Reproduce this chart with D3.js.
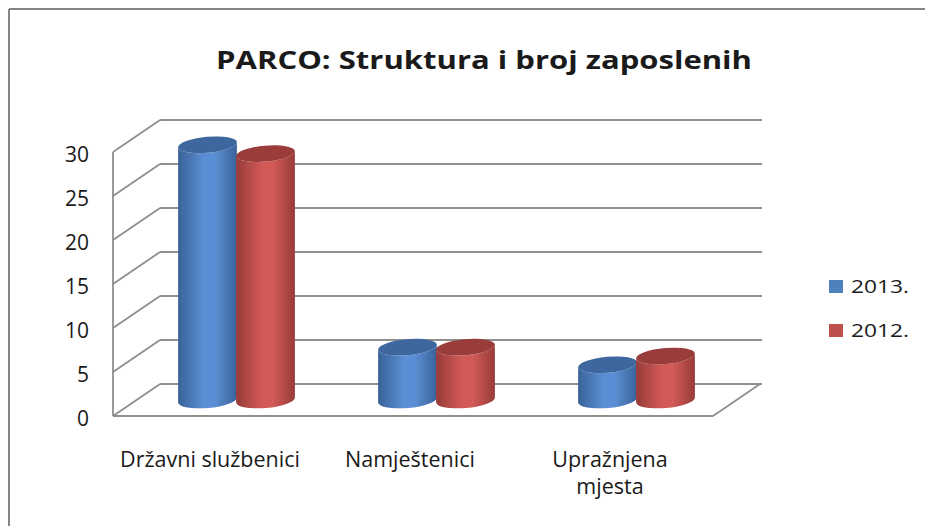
<!DOCTYPE html>
<html>
<head>
<meta charset="utf-8">
<script src="https://cdn.jsdelivr.net/npm/d3@7"></script>
<style>
  body { margin: 0; background: #fff; }
  text { font-family: "Open Sans", "Liberation Sans", sans-serif; fill: #1a1a1a; }
</style>
</head>
<body>
<div id="chart"></div>
<script>
// chart data
var categories = ["Državni službenici", "Namještenici", "Upražnjena\nmjesta"];
var seriesNames = ["2013.", "2012."];
var values2013 = [29, 6, 4];
var values2012 = [28, 6, 5];
var yTicks = [0, 5, 10, 15, 20, 25, 30];
var title = "PARCO: Struktura i broj zaposlenih";

var W = 925, H = 526;
var svg = d3.select("#chart").append("svg").attr("width", W).attr("height", H);

// depth offset of the 3d box (front -> back)
var depth = {x: 47, y: -32};

// front plane scales
var x = d3.scaleBand().domain(categories).range([113, 713]);
var y = d3.scaleLinear().domain([0, 30]).range([416, 152]);
var xs = d3.scaleBand().domain(seriesNames).range([-58, 58]);

var colors = {
  "2013.": {dark: "#3a6298", light: "#5b8fd5", top: "#3d679e", legend: "#4f81bd"},
  "2012.": {dark: "#973b39", light: "#d25b58", top: "#9a3d3a", legend: "#c0504d"}
};

var defs = svg.append("defs");
seriesNames.forEach(function(s, i) {
  var g = defs.append("linearGradient").attr("id", "grad" + i)
    .attr("x1", "0%").attr("x2", "100%").attr("y1", "0%").attr("y2", "0%");
  g.append("stop").attr("offset", "0%").attr("stop-color", colors[s].dark);
  g.append("stop").attr("offset", "45%").attr("stop-color", colors[s].light);
  g.append("stop").attr("offset", "62%").attr("stop-color", colors[s].light);
  g.append("stop").attr("offset", "100%").attr("stop-color", colors[s].dark);
});

// chart frame (top and left edges visible)
svg.append("line").attr("x1", 9).attr("x2", W).attr("y1", 9).attr("y2", 9)
  .attr("stroke", "#858585").attr("stroke-width", 2);
svg.append("line").attr("x1", 9).attr("x2", 9).attr("y1", 9).attr("y2", H)
  .attr("stroke", "#858585").attr("stroke-width", 2);

// title
svg.append("text").attr("x", 484).attr("y", 69)
  .attr("text-anchor", "middle")
  .attr("textLength", 536).attr("lengthAdjust", "spacingAndGlyphs")
  .style("font-size", "25px").style("font-weight", "bold")
  .text(title);

var gridColor = "#8f8f8f";
var x0 = x.range()[0], x1 = x.range()[1];

// back wall gridlines + side wall diagonals
var grid = svg.append("g").attr("stroke", gridColor).attr("stroke-width", 1.8).attr("fill", "none");
yTicks.forEach(function(t) {
  grid.append("line")
    .attr("x1", x0 + depth.x).attr("x2", x1 + depth.x + 2)
    .attr("y1", y(t) + depth.y).attr("y2", y(t) + depth.y);
  grid.append("line")
    .attr("x1", x0).attr("x2", x0 + depth.x)
    .attr("y1", y(t)).attr("y2", y(t) + depth.y);
});
// left front axis
grid.append("line").attr("x1", x0).attr("x2", x0).attr("y1", y(30)).attr("y2", y(0));
// floor front and right edge
grid.append("line").attr("x1", x0).attr("x2", x1).attr("y1", y(0)).attr("y2", y(0));
grid.append("line").attr("x1", x1).attr("x2", x1 + depth.x).attr("y1", y(0)).attr("y2", y(0) + depth.y);

// y tick labels
var yAxis = svg.append("g").attr("transform", "translate(89,3)")
  .call(d3.axisLeft(y).tickValues(yTicks).tickSize(0).tickPadding(0));
yAxis.select(".domain").remove();
yAxis.selectAll("text").style("font-size", "21px").attr("fill", "#1a1a1a")
  .style("font-family", "'Open Sans', sans-serif");

// cylinders
var rx = 29.5, ry = 8, tilt = -5 * Math.PI / 180;
function ellPoint(cx, cy, sign) {
  return [cx + sign * rx * Math.cos(tilt), cy + sign * rx * Math.sin(tilt)];
}
var rows = [];
categories.forEach(function(c, i) {
  rows.push({cat: c, series: "2013.", value: values2013[i], idx: 0});
  rows.push({cat: c, series: "2012.", value: values2012[i], idx: 1});
});
var bars = svg.append("g").selectAll("g").data(rows).enter().append("g");
bars.each(function(d) {
  var g = d3.select(this);
  var cx = x(d.cat) + x.bandwidth() / 2 + xs(d.series) + xs.bandwidth() / 2 + depth.x / 2;
  var cyB = y(0) + depth.y / 2;
  var cyT = y(d.value) + depth.y / 2;
  var rot = tilt * 180 / Math.PI;
  var lb = ellPoint(cx, cyB, -1), rb = ellPoint(cx, cyB, 1);
  var lt = ellPoint(cx, cyT, -1), rt = ellPoint(cx, cyT, 1);
  var path = "M" + lt[0] + "," + lt[1] +
    " L" + lb[0] + "," + lb[1] +
    " A" + rx + "," + ry + " " + rot + " 0 0 " + rb[0] + "," + rb[1] +
    " L" + rt[0] + "," + rt[1] +
    " A" + rx + "," + ry + " " + rot + " 0 1 " + lt[0] + "," + lt[1] + " Z";
  g.append("path").attr("d", path).attr("fill", "url(#grad" + d.idx + ")");
  g.append("ellipse").attr("cx", cx).attr("cy", cyT).attr("rx", rx).attr("ry", ry)
    .attr("transform", "rotate(" + rot + "," + cx + "," + cyT + ")")
    .attr("fill", colors[d.series].top);
});

// category labels
var catG = svg.append("g");
categories.forEach(function(c) {
  var t = catG.append("text").attr("text-anchor", "middle").style("font-size", "21.5px");
  c.split("\n").forEach(function(line, j) {
    t.append("tspan").attr("x", x(c) + x.bandwidth() / 2 - 3).attr("y", 467 + j * 27).text(line);
  });
});

// legend
var legend = svg.append("g").selectAll("g").data(seriesNames).enter().append("g")
  .attr("transform", function(d, i) { return "translate(829," + (280 + i * 44) + ")"; });
legend.append("rect").attr("width", 14).attr("height", 13)
  .attr("fill", function(d) { return colors[d].legend; });
legend.append("text").attr("x", 22).attr("y", 13)
  .attr("textLength", 58).attr("lengthAdjust", "spacingAndGlyphs")
  .style("font-size", "18px").text(function(d) { return d; });
</script>
</body>
</html>
